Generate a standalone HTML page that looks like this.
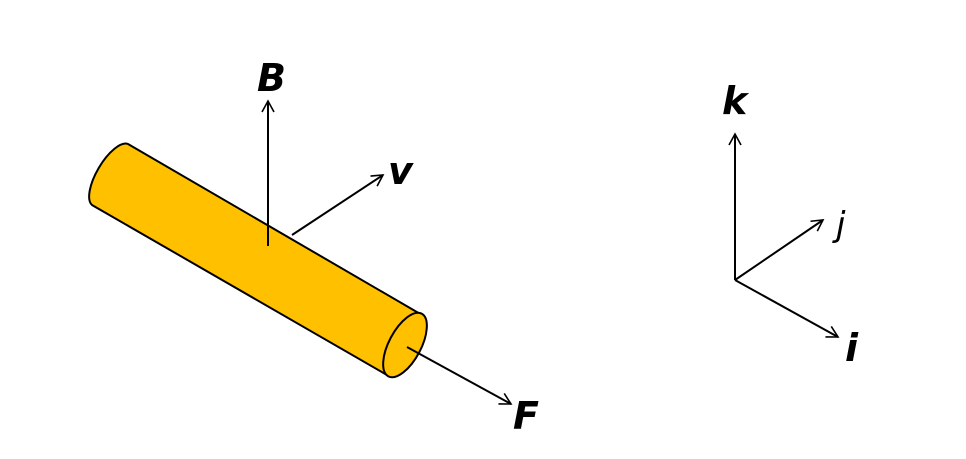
<!DOCTYPE html>
<html><head><style>body{margin:0;background:#fff}svg{display:block}</style></head><body>
<svg width="966" height="459" viewBox="0 0 966 459" xmlns="http://www.w3.org/2000/svg">
<defs><marker id="a" markerWidth="14" markerHeight="14" refX="12" refY="7" orient="auto" markerUnits="userSpaceOnUse"><path d="M1,1 L12,7 L1,13" fill="none" stroke="#000" stroke-width="1.6"/></marker></defs>
<path d="M128,144 L422,315 L387,375 L92,205 A35.5 14 -59.5 0 1 128,144 Z" fill="#FFC000" stroke="#000" stroke-width="2"/>
<ellipse cx="0" cy="0" rx="35.5" ry="16" transform="translate(405,345) rotate(-62)" fill="#FFC000" stroke="#000" stroke-width="2"/>
<g stroke="#000" stroke-width="2" fill="none">
<line x1="268" y1="246" x2="268" y2="101" marker-end="url(#a)"/>
<line x1="292" y1="235" x2="383" y2="175" marker-end="url(#a)"/>
<line x1="407" y1="347" x2="511" y2="404" marker-end="url(#a)"/>
<line x1="735" y1="280" x2="735" y2="134" marker-end="url(#a)"/>
<line x1="735" y1="280" x2="823" y2="220" marker-end="url(#a)"/>
<line x1="735" y1="280" x2="838" y2="337" marker-end="url(#a)"/>
</g>
<g font-family="'DejaVu Sans','Liberation Sans',sans-serif" font-weight="bold" font-style="italic" font-size="38" fill="#000">
<text x="257" y="91">B</text>
<text x="388" y="184">v</text>
<text x="513" y="429">F</text>
<text x="722" y="114">k</text>
<text x="845" y="361">i</text>
</g>
<text x="836" y="236" font-family="'DejaVu Sans','Liberation Sans',sans-serif" font-style="italic" font-size="34" fill="#000">j</text>
</svg>
</body></html>
